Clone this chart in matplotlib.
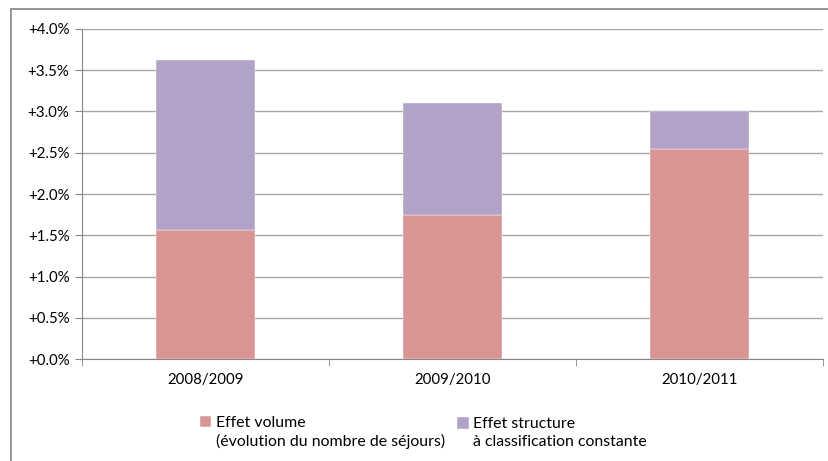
import matplotlib
matplotlib.use("Agg")
import matplotlib.pyplot as plt
import numpy as np
from matplotlib.patches import Rectangle

periods = ["2008/2009", "2009/2010", "2010/2011"]
effet_volume = [1.56, 1.745, 2.54]
effet_structure = [2.06, 1.355, 0.46]
yticks = [0.0, 0.5, 1.0, 1.5, 2.0, 2.5, 3.0, 3.5, 4.0]

RED = "#d99594"
PURPLE = "#b3a2c7"
GRID = "#a6a6a6"

plt.rcParams['font.family'] = ['Lato', 'DejaVu Sans']
plt.rcParams['font.size'] = 10.8

fig = plt.figure(figsize=(8.29, 4.61), dpi=100)
ax = fig.add_axes([82 / 829, 1 - 359 / 461, 741 / 829, 330 / 461])

# outer chart frame (right side cut off like the source)
fig.patches.append(Rectangle((11.5 / 829, -0.1), 1.0, 1 - 9.5 / 461 + 0.1,
                             transform=fig.transFigure, fill=False,
                             edgecolor="#8c8c8c", linewidth=1.3))

x = np.arange(len(periods))
ax.bar(x, effet_volume, width=0.4, color=RED, edgecolor="white", linewidth=0.3,
       label="Effet volume\n(évolution du nombre de séjours)", zorder=3)
ax.bar(x, effet_structure, width=0.4, bottom=effet_volume, color=PURPLE,
       edgecolor="white", linewidth=0.3,
       label="Effet structure\nà classification constante", zorder=3)

ax.set_xlim(-0.5, len(periods) - 0.5)
ax.set_ylim(0, 4.0)
ax.set_yticks(yticks)
ax.set_yticklabels(["+%.1f%%" % v for v in yticks])
ax.set_xticks(x)
ax.set_xticklabels(periods)
ax.set_xticks(np.arange(len(periods) + 1) - 0.5, minor=True)
ax.tick_params(axis="x", which="major", length=0, pad=10)
ax.tick_params(axis="x", which="minor", length=5, color="#868686")
ax.tick_params(axis="y", length=5, color="#868686", pad=4)

ax.yaxis.grid(True, color=GRID, linewidth=1.0, zorder=0)
ax.set_axisbelow(True)
for side in ["top", "right"]:
    ax.spines[side].set_visible(False)
ax.spines["left"].set_color("#868686")
ax.spines["bottom"].set_color("#868686")

leg = fig.legend(loc="upper left", bbox_to_anchor=(200 / 829, 1 - 416 / 461),
                 ncol=2, frameon=False, handlelength=0.72, handleheight=0.72,
                 handletextpad=0.3, columnspacing=0.75, borderpad=0,
                 borderaxespad=0, labelspacing=0.2, fontsize=11.4)
for t in leg.get_texts():
    t.set_linespacing(1.3)
# put the colour square next to the first line of each label
for col in leg._legend_handle_box.get_children():
    for row in col.get_children():
        row.align = "top"

fig.savefig("out.png", dpi=100)
